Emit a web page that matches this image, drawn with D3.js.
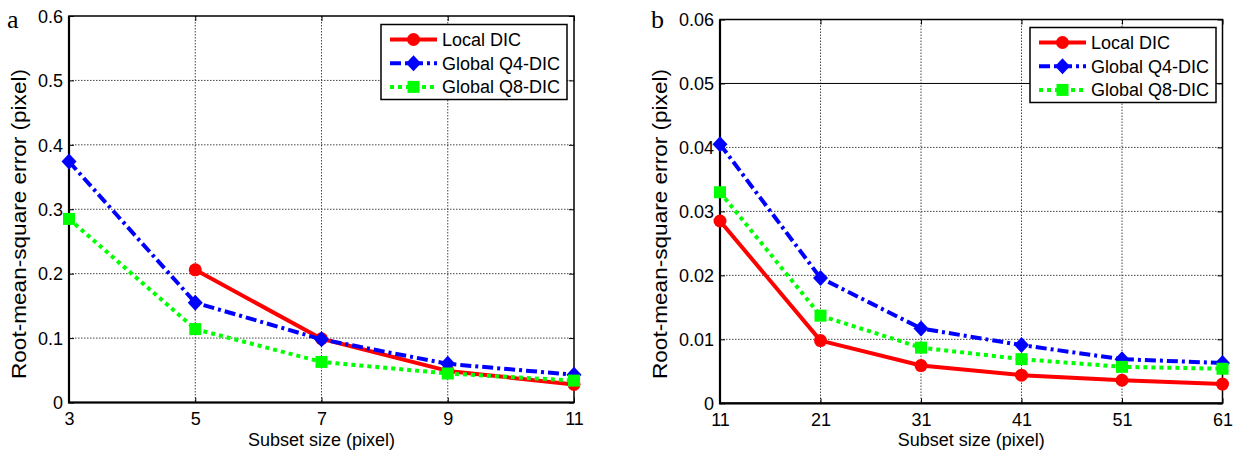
<!DOCTYPE html>
<html>
<head>
<meta charset="utf-8">
<script src="https://cdn.jsdelivr.net/npm/d3@7/dist/d3.min.js"></script>
<style>
  body { margin: 0; background: #fff; }
  svg { font-family: "Liberation Sans", Arial, sans-serif; }
</style>
</head>
<body>
<script>
// panel a data
var sizesA = [3, 5, 7, 9, 11];
var localA = [null, 0.206, 0.099, 0.049, 0.028];
var q4A = [0.374, 0.155, 0.098, 0.060, 0.043];
var q8A = [0.285, 0.114, 0.063, 0.045, 0.034];
var yTicksA = [0, 0.1, 0.2, 0.3, 0.4, 0.5, 0.6];

// panel b data
var sizesB = [11, 21, 31, 41, 51, 61];
var localB = [0.0285, 0.0098, 0.0059, 0.0044, 0.0036, 0.0030];
var q4B = [0.0405, 0.0196, 0.0117, 0.0091, 0.0069, 0.0063];
var q8B = [0.0330, 0.0137, 0.0087, 0.0069, 0.0057, 0.0054];
var yTicksB = [0, 0.01, 0.02, 0.03, 0.04, 0.05, 0.06];

var seriesNames = ["Local DIC", "Global Q4-DIC", "Global Q8-DIC"];
var seriesColors = ["#ff0000", "#0000ff", "#00ff00"];
var seriesDash = [null, "11,4,3,4", "4,4"];
var seriesMarker = ["circle", "diamond", "square"];

var svg = d3.select("body").append("svg").attr("width", 1234).attr("height", 455);

function marker(g, type, color, x, y) {
  if (type === "circle") {
    g.append("circle").attr("cx", x).attr("cy", y).attr("r", 6.5).attr("fill", color);
  } else if (type === "diamond") {
    g.append("path").attr("d", "M" + x + "," + (y - 8) + "L" + (x + 7.5) + "," + y + "L" + x + "," + (y + 8) + "L" + (x - 7.5) + "," + y + "Z")
      .attr("fill", color);
  } else {
    g.append("rect").attr("x", x - 6).attr("y", y - 6).attr("width", 12).attr("height", 12).attr("fill", color);
  }
}

function drawPanel(p) {
  var left = p.left, top = p.top, w = p.right - p.left, h = p.bottom - p.top;
  var g = svg.append("g").attr("transform", "translate(" + left + "," + top + ")");

  var x = d3.scaleLinear().domain(d3.extent(p.sizes)).range([0, w]);
  var y = d3.scaleLinear().domain([0, p.yTicks[p.yTicks.length - 1]]).range([h, 0]);

  // grid
  g.append("g").selectAll("line").data(p.sizes.slice(1, -1)).enter().append("line")
    .attr("x1", function(d) { return x(d); }).attr("x2", function(d) { return x(d); })
    .attr("y1", 0).attr("y2", h)
    .attr("stroke", "#444").attr("stroke-width", 1).attr("stroke-dasharray", "1.5,1.5");
  g.append("g").selectAll("line").data(p.yTicks.slice(1, -1)).enter().append("line")
    .attr("x1", 0).attr("x2", w)
    .attr("y1", function(d) { return y(d); }).attr("y2", function(d) { return y(d); })
    .attr("stroke", function(d) { return p.solidGrid && Math.abs(d - p.solidGrid) < 1e-9 ? "#000" : "#444"; })
    .attr("stroke-width", 1)
    .attr("stroke-dasharray", function(d) { return p.solidGrid && Math.abs(d - p.solidGrid) < 1e-9 ? null : "1.5,1.5"; });

  // axes with inward ticks
  var xa = g.append("g").attr("transform", "translate(0," + h + ")")
    .call(d3.axisBottom(x).tickValues(p.sizes).tickFormat(d3.format("d")).tickSizeInner(-5).tickSizeOuter(0).tickPadding(7));
  var xt = g.append("g")
    .call(d3.axisTop(x).tickValues(p.sizes).tickFormat("").tickSizeInner(-5).tickSizeOuter(0));
  var ya = g.append("g")
    .call(d3.axisLeft(y).tickValues(p.yTicks).tickFormat(function(d) { return d === 0 ? "0" : d3.format(p.fmt)(d); }).tickSizeInner(-5).tickSizeOuter(0).tickPadding(6));
  var yr = g.append("g").attr("transform", "translate(" + w + ",0)")
    .call(d3.axisRight(y).tickValues(p.yTicks).tickFormat("").tickSizeInner(-5).tickSizeOuter(0));
  [xa, xt, ya, yr].forEach(function(a) {
    a.select(".domain").remove();
    a.selectAll(".tick line").attr("stroke", "#000");
    a.selectAll("text").attr("fill", "#000").style("font-size", "18px");
  });
  xa.selectAll("text").attr("dy", "0.85em");
  ya.selectAll("text").attr("dy", "0.35em");

  // box
  g.append("rect").attr("x", 0).attr("y", 0).attr("width", w).attr("height", h)
    .attr("fill", "none").attr("stroke", "#000").attr("stroke-width", 1.5);
  g.append("path").attr("d", "M0,0V" + h + "H" + w)
    .attr("fill", "none").attr("stroke", "#000").attr("stroke-width", 2.2);

  // series
  p.series.forEach(function(vals, i) {
    var pts = p.sizes.map(function(s, j) { return {s: s, v: vals[j]}; })
      .filter(function(d) { return d.v != null; });
    var line = d3.line().x(function(d) { return x(d.s); }).y(function(d) { return y(d.v); });
    g.append("path").datum(pts)
      .attr("fill", "none").attr("stroke", seriesColors[i]).attr("stroke-width", 4)
      .attr("stroke-dasharray", seriesDash[i])
      .attr("stroke-linejoin", "round")
      .attr("d", line);
    var mg = g.append("g");
    pts.forEach(function(d) { marker(mg, seriesMarker[i], seriesColors[i], x(d.s), y(d.v)); });
  });

  // labels
  svg.append("text").attr("x", left + w / 2).attr("y", 446).attr("text-anchor", "middle")
    .style("font-size", "18px").text("Subset size (pixel)");
  svg.append("text").attr("transform", "translate(" + p.ylabelX + ",224) rotate(-90)")
    .attr("text-anchor", "middle").style("font-size", "20px")
    .attr("textLength", 310).attr("lengthAdjust", "spacingAndGlyphs")
    .text("Root-mean-square error (pixel)");
  svg.append("text").attr("x", p.letterX).attr("y", 28)
    .style("font-family", "'Liberation Serif', 'Times New Roman', serif").style("font-size", "26px").text(p.letter);

  // legend
  var lg = svg.append("g").attr("transform", "translate(" + p.leg[0] + "," + p.leg[1] + ")");
  lg.append("rect").attr("width", p.leg[2]).attr("height", p.leg[3])
    .attr("fill", "#fff").attr("stroke", "#000").attr("stroke-width", 1.5);
  seriesNames.forEach(function(name, i) {
    var yy = 15 + i * 23.7;
    lg.append("line").attr("x1", 9).attr("x2", 56).attr("y1", yy).attr("y2", yy)
      .attr("stroke", seriesColors[i]).attr("stroke-width", 4).attr("stroke-dasharray", seriesDash[i]);
    marker(lg, seriesMarker[i], seriesColors[i], 32.5, yy);
    lg.append("text").attr("x", 61).attr("y", yy).attr("dy", "0.36em")
      .style("font-size", "18px").text(name);
  });
}

drawPanel({
  left: 69, top: 16, right: 574, bottom: 402.5,
  sizes: sizesA, yTicks: yTicksA, fmt: ".1f",
  series: [localA, q4A, q8A],
  ylabelX: 26, letterX: 7, letter: "a",
  leg: [381, 24.5, 186, 75]
});

drawPanel({
  left: 720, top: 19.5, right: 1222.5, bottom: 403.3,
  sizes: sizesB, yTicks: yTicksB, fmt: ".2f",
  series: [localB, q4B, q8B], solidGrid: 0.05,
  ylabelX: 667, letterX: 651, letter: "b",
  leg: [1030, 27.5, 186, 75]
});
</script>
</body>
</html>
